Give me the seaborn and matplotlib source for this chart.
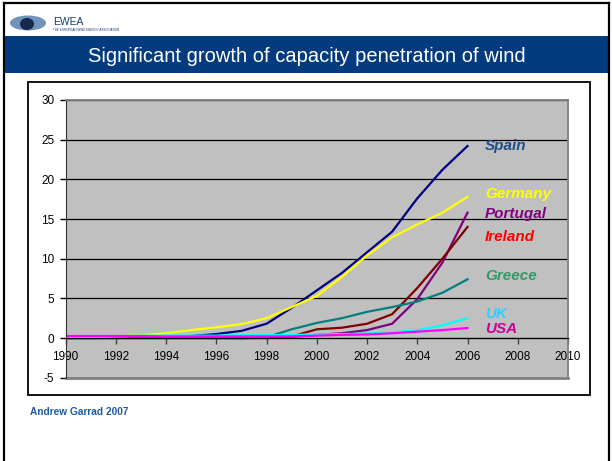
import pandas as pd
import matplotlib
matplotlib.use('Agg')
import matplotlib.pyplot as plt
import seaborn as sns
from matplotlib.patches import Rectangle, Ellipse
from matplotlib.lines import Line2D

# capacity penetration of wind (%)
years = list(range(1990, 2007))
spain = [0.0, 0.0, 0.02, 0.05, 0.1, 0.25, 0.5, 0.9, 1.8, 3.8, 6.0, 8.2, 10.8, 13.4, 17.6, 21.2, 24.2]
germany = [0.1, 0.15, 0.2, 0.35, 0.6, 1.0, 1.35, 1.75, 2.5, 3.9, 5.3, 7.7, 10.4, 12.7, 14.3, 15.8, 17.8]
portugal = [0.1, 0.1, 0.1, 0.1, 0.1, 0.1, 0.1, 0.1, 0.1, 0.15, 0.4, 0.6, 1.0, 1.8, 4.9, 9.5, 15.8]
ireland = [0.0, 0.0, 0.0, 0.0, 0.0, 0.0, 0.0, 0.0, 0.0, 0.2, 1.1, 1.3, 1.8, 3.0, 6.3, 10.0, 14.0]
greece = [0.0, 0.0, 0.0, 0.0, 0.0, 0.0, 0.0, -0.05, 0.1, 1.1, 1.9, 2.5, 3.3, 3.9, 4.6, 5.7, 7.4]
uk = [0.05, 0.1, 0.2, 0.3, 0.3, 0.3, 0.3, 0.35, 0.35, 0.4, 0.45, 0.5, 0.55, 0.7, 1.0, 1.6, 2.5]
usa = [0.25, 0.25, 0.25, 0.25, 0.2, 0.2, 0.2, 0.2, 0.2, 0.2, 0.3, 0.4, 0.45, 0.6, 0.8, 1.0, 1.26]

countries = ['Spain', 'Germany', 'Portugal', 'Ireland', 'Greece', 'UK', 'USA']
series = [spain, germany, portugal, ireland, greece, uk, usa]
line_colors = ['#000080', '#FFFF00', '#800080', '#800000', '#008080', '#00FFFF', '#FF00FF']
label_colors = ['#1F4E8C', '#FFFF00', '#800080', '#FF0000', '#339966', '#33CCFF', '#CC0099']
label_y = [24.2, 18.1, 15.6, 12.7, 7.8, 3.0, 1.2]

rows = []
for name, vals in zip(countries, series):
    for yr, v in zip(years, vals):
        rows.append({'year': yr, 'value': v, 'country': name})
df = pd.DataFrame(rows)

plt.rcParams['font.family'] = ['Liberation Sans', 'DejaVu Sans']
plt.rcParams['axes.unicode_minus'] = False

W, H = 612, 461
fig = plt.figure(figsize=(W / 100, H / 100), dpi=100)
fig.patch.set_facecolor('white')


def fx(px):
    return px / W


def fy(py):
    return 1 - py / H


# slide frame
fig.add_artist(Line2D([fx(4), fx(4)], [0, fy(3)], color='black', lw=1.6))
fig.add_artist(Line2D([fx(4), fx(609)], [fy(3), fy(3)], color='black', lw=1.6))
fig.add_artist(Line2D([fx(609), fx(609)], [0, fy(3)], color='black', lw=1.6))

# logo
fig.add_artist(Ellipse((fx(28), fy(23)), 36 / W, 15 / H, transform=fig.transFigure,
                       facecolor='#6f93bb', edgecolor='none'))
fig.add_artist(Ellipse((fx(27), fy(24)), 14 / W, 12 / H, transform=fig.transFigure,
                       facecolor='#15284d', edgecolor='none'))
fig.text(fx(53), fy(22), 'EWEA', fontsize=7.5, color='#1b3a6b', va='center', ha='left')
fig.text(fx(53), fy(30), 'THE EUROPEAN WIND ENERGY ASSOCIATION', fontsize=2.2,
         color='#1b3a6b', va='center', ha='left')

# title band
fig.add_artist(Rectangle((fx(5), fy(73)), (609 - 5) / W, (73 - 36) / H,
                         transform=fig.transFigure, facecolor='#033B7E', edgecolor='none'))
fig.text(fx(306.5), fy(57), 'Significant growth of capacity penetration of wind',
         fontsize=14.5, color='white', ha='center', va='center')

# chart box (behind the axes)
fig.add_artist(Rectangle((fx(28), fy(395)), (590 - 28) / W, (395 - 82) / H,
                         transform=fig.transFigure, facecolor='white', edgecolor='black',
                         lw=1.3, zorder=-1))

ax = fig.add_axes([fx(65.5), fy(377.7), (568 - 65.5) / W, (377.7 - 100) / H])
ax.set_zorder(1)
ax.set_facecolor('#C0C0C0')
ax.grid(axis='y', color='black', lw=0.9)
ax.set_axisbelow(True)

sns.lineplot(data=df, x='year', y='value', hue='country', hue_order=countries,
             palette=dict(zip(countries, line_colors)), linewidth=1.6, legend=False, ax=ax)

ax.set_xlim(1990, 2010)
ax.set_ylim(-5, 30)
ax.set_xticks(range(1990, 2011, 2))
ax.set_yticks(range(-5, 31, 5))
ax.set_xlabel('')
ax.set_ylabel('')

ax.spines['bottom'].set_position(('data', 0))
ax.spines['bottom'].set_color('black')
ax.spines['left'].set_color('#333333')
ax.spines['top'].set_color('#808080')
ax.spines['right'].set_color('#808080')
for s in ['top', 'right']:
    ax.spines[s].set_linewidth(1.3)
ax.axhline(-5, color='#808080', lw=2, clip_on=False)

ax.tick_params(axis='x', direction='out', length=4, width=1, color='#444444', pad=5,
               labelsize=8.5)
ax.tick_params(axis='y', direction='out', length=4, width=1, color='black', pad=4,
               labelsize=8.5)

for name, yv, c in zip(countries, label_y, label_colors):
    ax.text(2006.7, yv, name, color=c, fontsize=11, fontweight='bold',
            fontstyle='italic', va='center', ha='left')

fig.text(fx(30), fy(412), 'Andrew Garrad 2007', fontsize=7.3, fontweight='bold',
         color='#1F5B9E', va='center', ha='left')

fig.savefig('out.png', dpi=100)
